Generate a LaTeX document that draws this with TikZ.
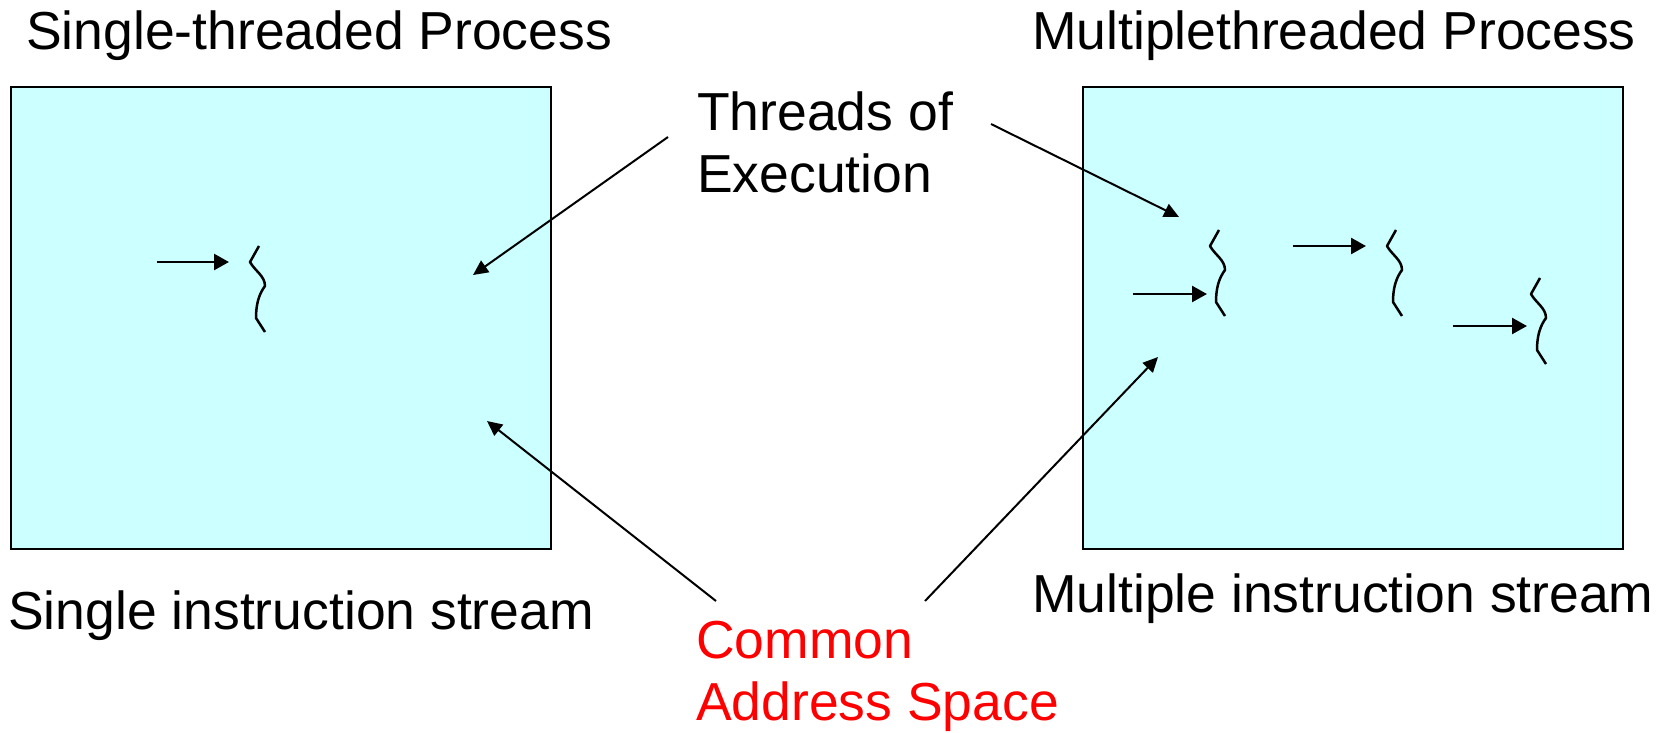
\documentclass[tikz,border=0pt]{standalone}
\usepackage{fontspec}
\setmainfont{Liberation Sans}
\usetikzlibrary{arrows.meta}

\definecolor{procfill}{RGB}{204,255,255}
\definecolor{labelred}{RGB}{255,0,0}

\tikzset{
  procbox/.style={draw=black, line width=2pt, fill=procfill},
  caption/.style={inner sep=0pt, anchor=base west, align=left,
                  font=\fontsize{53.5pt}{62pt}\selectfont},
  pointer/.style={line width=2pt, -{Triangle[length=15pt,width=14pt]}},
  feed/.style={line width=2.5pt, -{Triangle[length=15pt,width=16pt]}},
  wire/.style={line width=2.5pt, line join=round},
  threadmark/.pic={
    \draw[wire] (0,0) -- (-9,16) .. controls (-4,25) and (6,30) .. (6,40)
      .. controls (0,48) and (-3,58) .. (-3,72) -- (6,86);
  }
}

\begin{document}
\begin{tikzpicture}[x=1pt,y=-1pt]
  \useasboundingbox (0,0) rectangle (1666,732);

  % the two process boxes
  \draw[procbox] (11,87) rectangle (551,549);
  \draw[procbox] (1083,87) rectangle (1623,549);

  % titles and captions (two-line labels are placed by their last baseline)
  \node[caption] (stitle) at (26,49) {Single-threaded Process};
  \node[caption] (mtitle) at (1032,49) {Multiplethreaded Process};
  \node[caption] (scap) at (8,629) {Single instruction stream};
  \node[caption] (mcap) at (1032,612) {Multiple instruction stream};
  \node[caption] (toe) at (697,192) {Threads of\\Execution};
  \node[caption, text=labelred] (cas) at (696,720) {Common\\Address Space};

  % thread of the single-threaded process
  \pic at (259,246) {threadmark};
  \coordinate (s1a) at (157,262);
  \coordinate (s1b) at (229,262);
  \draw[feed] (s1a) -- (s1b);

  % threads of the multithreaded process
  \pic at (1219,230) {threadmark};
  \pic at (1396,230) {threadmark};
  \pic at (1540,278) {threadmark};
  \coordinate (m1a) at (1133,294);
  \coordinate (m1b) at (1207,294);
  \coordinate (m2a) at (1293,246);
  \coordinate (m2b) at (1366,246);
  \coordinate (m3a) at (1453,326);
  \coordinate (m3b) at (1527,326);
  \draw[feed] (m1a) -- (m1b);
  \draw[feed] (m2a) -- (m2b);
  \draw[feed] (m3a) -- (m3b);

  % callouts
  \coordinate (toeL) at (668,137);
  \coordinate (toeR) at (991,124);
  \coordinate (casL) at (716,601);
  \coordinate (casR) at (925,601);
  \coordinate (hitS1) at (473,275);
  \coordinate (hitM1) at (1179,217);
  \coordinate (hitS2) at (487,421);
  \coordinate (hitM2) at (1158,357);
  \draw[pointer] (toeL) -- (hitS1);
  \draw[pointer] (toeR) -- (hitM1);
  \draw[pointer] (casL) -- (hitS2);
  \draw[pointer] (casR) -- (hitM2);
\end{tikzpicture}
\end{document}
